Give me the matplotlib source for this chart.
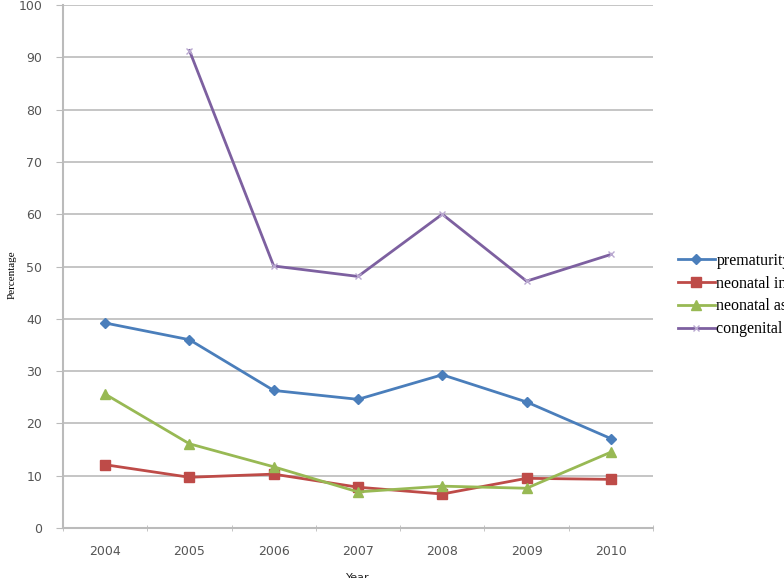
import matplotlib
matplotlib.use("Agg")
import matplotlib.pyplot as plt
import numpy as np

# Данные
years = ['2004', '2005', '2006', '2007', '2008', '2009', '2010']
prematurity = [39.2, 36.0, 26.3, 24.6, 29.3, 24.1, 17.1]
neonatal_infection = [12.1, 9.7, 10.3, 7.8, 6.5, 9.5, 9.3]
neonatal_asphyxia = [25.6, 16.1, 11.7, 6.9, 8.0, 7.6, 14.5]
congenital = [np.nan, 91.3, 50.1, 48.1, 60.0, 47.2, 52.3]

labels = ['prematurity', 'neonatal infection', 'neonatal asphyxia', 'congenital malformation']

fig = plt.figure(figsize=(7.84, 5.78), dpi=100)
ax = fig.add_axes([63 / 784, 50 / 578, 590 / 784, 523 / 578])

x = np.arange(len(years))

ax.plot(x, prematurity, color='#4A7EBB', lw=2, marker='D', ms=5, label=labels[0])
ax.plot(x, neonatal_infection, color='#BE4B48', lw=2, marker='s', ms=6.5, label=labels[1])
ax.plot(x, neonatal_asphyxia, color='#98B954', lw=2, marker='^', ms=6.5, label=labels[2])
ax.plot(x, congenital, color='#7D60A0', lw=2, marker='x', ms=5, mew=1,
        mec='#B9A8D0', label=labels[3])

# Оси
ax.set_xlim(-0.5, len(years) - 0.5)
ax.set_ylim(0, 100)
ax.set_yticks(np.arange(0, 101, 10))
ax.set_xticks(x)
ax.set_xticklabels(years)
ax.set_xticks(np.arange(-0.5, len(years)), minor=True)
ax.tick_params(axis='x', which='major', length=0, pad=12, labelsize=9, labelcolor='#555555')
ax.tick_params(axis='x', which='minor', length=4, direction='inout', color='#BBBBBB')
ax.tick_params(axis='y', length=5, color='#BBBBBB', pad=10, labelsize=9, labelcolor='#555555')

ax.grid(axis='y', color='#BBBBBB', lw=1.2)
ax.set_axisbelow(True)
for side in ['top', 'right']:
    ax.spines[side].set_visible(False)
for side in ['left', 'bottom']:
    ax.spines[side].set_color('#BBBBBB')
    ax.spines[side].set_linewidth(1.5)

fig.text(12 / 784, 1 - 275 / 578, 'Percentage', rotation=90, ha='center', va='center',
         family='Liberation Serif', fontsize=8)
fig.text(358 / 784, 1 - 578 / 578, 'Year', ha='center', va='center',
         family='DejaVu Sans', fontsize=8, color='#222222')

# Легенда (обрезана правым краем, как в оригинале)
ax.legend(loc='upper left', bbox_to_anchor=(678 / 784, 1 - 253 / 578),
          bbox_transform=fig.transFigure, frameon=False, borderpad=0,
          borderaxespad=0, handlelength=2.3, handletextpad=0.1, labelspacing=0.42,
          prop={'family': 'Liberation Serif', 'size': 11.5})

fig.savefig('out.png', dpi=100)
